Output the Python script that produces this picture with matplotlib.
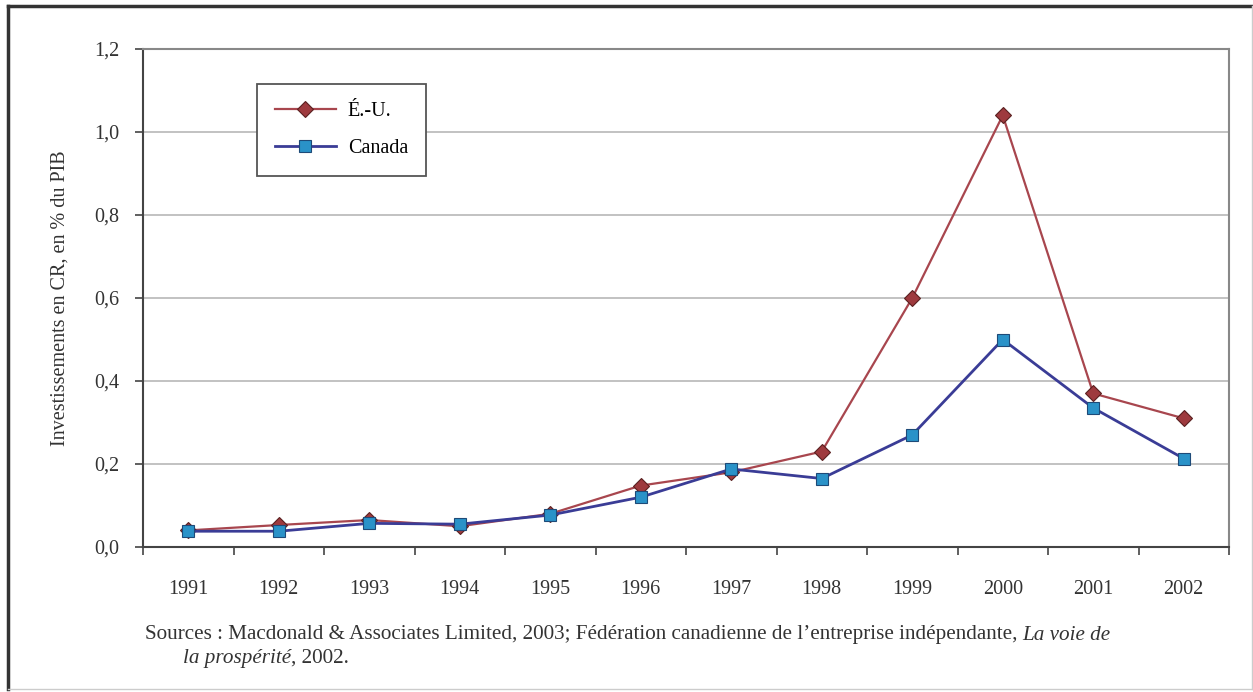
import matplotlib.pyplot as plt
import numpy as np
from matplotlib.lines import Line2D

plt.rcParams['font.family'] = ['Liberation Serif', 'DejaVu Serif']

years = ['1991', '1992', '1993', '1994', '1995', '1996', '1997', '1998', '1999', '2000', '2001', '2002']
us_vals = [0.040, 0.053, 0.065, 0.050, 0.080, 0.148, 0.180, 0.230, 0.600, 1.040, 0.370, 0.310]
canada_vals = [0.038, 0.038, 0.057, 0.055, 0.077, 0.120, 0.188, 0.165, 0.270, 0.500, 0.335, 0.213]
y_ticks = [0.0, 0.2, 0.4, 0.6, 0.8, 1.0, 1.2]
y_labels = ['0,0', '0,2', '0,4', '0,6', '0,8', '1,0', '1,2']

fig = plt.figure(figsize=(12.53, 6.92), dpi=100)
ax = fig.add_axes([143 / 1253, 1 - 547 / 692, (1229 - 143) / 1253, (547 - 49) / 692])

x = np.arange(len(years))
ax.plot(x, us_vals, color='#A8464E', lw=1.6, marker='D', ms=8.5,
        mfc='#9E3A3E', mec='#5A2020', mew=0.8, label='É.-U.', zorder=3)
ax.plot(x, canada_vals, color='#3A3C96', lw=2.0, marker='s', ms=8,
        mfc='#2A92C8', mec='#1E4A78', mew=0.8, label='Canada', zorder=4)

ax.set_xlim(-0.5, len(years) - 0.5)
ax.set_ylim(0, 1.2)
ax.set_yticks(y_ticks)
ax.set_yticklabels(y_labels, fontsize=14.5, color='#333333')
ax.set_xticks(x)
ax.set_xticklabels(years, fontsize=14.5, color='#333333')
ax.set_xticks(np.arange(-0.5, len(years)), minor=True)
ax.tick_params(axis='x', which='major', length=0, pad=24)
ax.tick_params(axis='x', which='minor', length=6, width=1.2, color='#444444', direction='out')
ax.tick_params(axis='y', length=6, width=1.2, color='#444444', direction='out', pad=11)

ax.grid(axis='y', color='#B8B8B8', lw=1.2)
ax.set_axisbelow(True)
for s in ['left', 'bottom']:
    ax.spines[s].set_color('#444444')
    ax.spines[s].set_linewidth(1.5)
for s in ['top', 'right']:
    ax.spines[s].set_color('#888888')
    ax.spines[s].set_linewidth(1.5)

ax.set_ylabel('Investissements en CR, en % du PIB', fontsize=14.5, color='#333333', labelpad=18)

leg = ax.legend(loc='upper left', bbox_to_anchor=(0.105, 0.93), borderaxespad=0, fontsize=14.5,
                fancybox=False, framealpha=1, edgecolor='#555555', borderpad=0.9,
                labelspacing=0.9, handlelength=3.0, handletextpad=0.6)
leg.get_frame().set_linewidth(1.3)

# source note, mixed roman / italic
fig.canvas.draw()
r = fig.canvas.get_renderer()
fs = 15.2
t1 = fig.text(145 / 1253, 1 - 635 / 692,
              'Sources : Macdonald & Associates Limited, 2003; Fédération canadienne de l\u2019entreprise indépendante, ',
              fontsize=fs, color='#333333', va='center')
bb = t1.get_window_extent(r).transformed(fig.transFigure.inverted())
fig.text(bb.x1, 1 - 635 / 692, 'La voie de', fontsize=fs, style='italic', color='#333333', va='center')
t3 = fig.text(183 / 1253, 1 - 658 / 692, 'la prospérité', fontsize=fs, style='italic',
              color='#333333', va='center')
bb3 = t3.get_window_extent(r).transformed(fig.transFigure.inverted())
fig.text(bb3.x1, 1 - 658 / 692, ', 2002.', fontsize=fs, color='#333333', va='center')

# outer frame
fig.add_artist(Line2D([8 / 1253, 8 / 1253], [0.005, 1 - 6 / 692], transform=fig.transFigure, color='#333333', lw=2.5))
fig.add_artist(Line2D([8 / 1253, 0.999], [1 - 6 / 692, 1 - 6 / 692], transform=fig.transFigure, color='#333333', lw=2.5))
fig.add_artist(Line2D([0.999, 0.999], [0.005, 1 - 6 / 692], transform=fig.transFigure, color='#CCCCCC', lw=1))
fig.add_artist(Line2D([8 / 1253, 0.999], [0.005, 0.005], transform=fig.transFigure, color='#CCCCCC', lw=1))

fig.savefig('out.png', dpi=100)
